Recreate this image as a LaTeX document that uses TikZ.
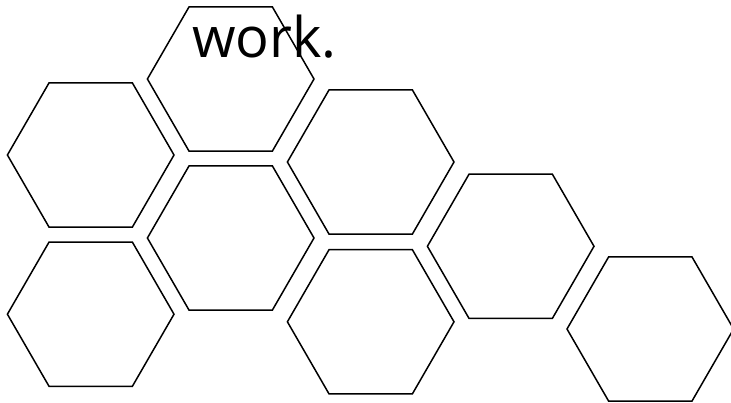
\documentclass[tikz,border=0pt]{standalone}
\usepackage{fontspec}
\setmainfont{Open Sans}
\usetikzlibrary{shapes.geometric}
\tikzset{
  hexcell/.style={draw, regular polygon, regular polygon sides=6,
    minimum size=166.6pt, inner sep=0pt, line width=1.5pt},
  headword/.style={inner sep=0pt, anchor=base west, font=\fontsize{56}{60}\selectfont}
}
\begin{document}
\begin{tikzpicture}[x=1pt, y=-1pt]
  \useasboundingbox (0,0) rectangle (731,402);
  % first column
  \node[hexcell] (h11) at (90.7,155) {};
  \node[hexcell] (h12) at (90.7,314.2) {};
  % second column
  \node[hexcell] (h21) at (230.7,79) {};
  \node[hexcell] (h22) at (230.7,238) {};
  % third column
  \node[hexcell] (h31) at (370.7,162) {};
  \node[hexcell] (h32) at (370.7,321.8) {};
  % fourth and fifth column
  \node[hexcell] (h41) at (510.7,246.3) {};
  \node[hexcell] (h51) at (650.3,329) {};
  % text
  \node[headword] (word) at (192,57.3) {work.};
\end{tikzpicture}
\end{document}
